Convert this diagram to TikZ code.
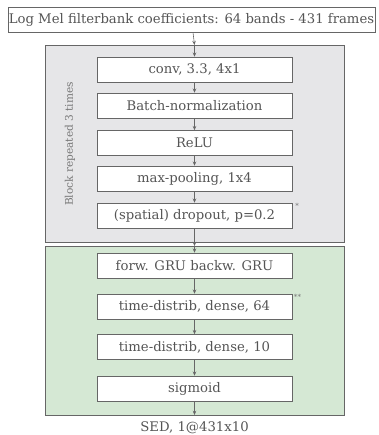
\documentclass[tikz,border=0pt]{standalone}
\usepackage{fontspec}
\usetikzlibrary{arrows.meta}
\setmainfont{DejaVu Serif}
\definecolor{txtgray}{HTML}{555555}
\definecolor{linegray}{HTML}{666666}
\definecolor{blockgray}{HTML}{E6E6E8}
\definecolor{blockgreen}{HTML}{D5E8D4}
\tikzset{
    layer/.style={draw=linegray, fill=white, text=txtgray, font=\fontsize{9.4}{10}\selectfont,
        minimum width=4.875cm, minimum height=0.625cm, inner sep=0pt},
    flow/.style={linegray, -{Stealth[length=3pt,width=2.5pt]}},
}
\begin{document}
\begin{tikzpicture}[x=0.025cm, y=-0.025cm]
    \useasboundingbox (0, 0) rectangle (379, 435);

    \draw[linegray, fill=blockgray] (45, 45) rectangle (344, 242);
    \draw[linegray, fill=blockgreen] (45, 246) rectangle (344, 415);
    \coordinate (cnntop) at (194.5, 45);
    \coordinate (cnnbot) at (194.5, 242);
    \coordinate (rnntop) at (194.5, 246);
    \coordinate (rnnbot) at (194.5, 415);

    \draw node[layer, minimum width=9.175cm] (input) at (191.5, 19.5)
            {Log Mel filterbank coefficients: 64 bands - 431 frames}
        node[layer] (conv) at (194.5, 69.5) {conv, 3.3, 4x1}
        node[layer] (bn) at (194.5, 105.5) {Batch-normalization}
        node[layer] (relu) at (194.5, 143) {ReLU}
        node[layer] (pool) at (194.5, 178.5) {max-pooling, 1x4}
        node[layer] (drop) at (194.5, 215.5) {(spatial) dropout, p=0.2}
        node[layer] (gru) at (194.5, 265.5) {forw. GRU backw. GRU}
        node[layer] (dense1) at (194.5, 306.5) {time-distrib, dense, 64}
        node[layer] (dense2) at (194.5, 347) {time-distrib, dense, 10}
        node[layer] (sigm) at (194.5, 388.5) {sigmoid}
        node[text=txtgray, font=\fontsize{9.4}{10}\selectfont] (out) at (194.5, 427.5) {SED, 1@431x10};

    \node[rotate=90, text=txtgray!80, font=\fontsize{7.5}{8}\selectfont] (rep) at (70, 144)
        {Block repeated 3 times};
    \node[text=txtgray!80, font=\tiny, anchor=north west, inner sep=0pt] (star1) at ([xshift=2pt]drop.north east) {*};
    \node[text=txtgray!80, font=\tiny, anchor=north west, inner sep=0pt] (star2) at ([xshift=1pt]dense1.north east) {**};

    \draw[flow] (input) -- (cnntop);
    \draw[flow] (cnntop) -- (conv);
    \draw[flow] (conv) -- (bn);
    \draw[flow] (bn) -- (relu);
    \draw[flow] (relu) -- (pool);
    \draw[flow] (pool) -- (drop);
    \draw[linegray] (drop) -- (cnnbot);
    \draw[flow] (cnnbot) -- (rnntop);
    \draw[flow] (rnntop) -- (gru);
    \draw[flow] (gru) -- (dense1);
    \draw[flow] (dense1) -- (dense2);
    \draw[flow] (dense2) -- (sigm);
    \draw[flow] (sigm) -- (rnnbot);
\end{tikzpicture}
\end{document}
